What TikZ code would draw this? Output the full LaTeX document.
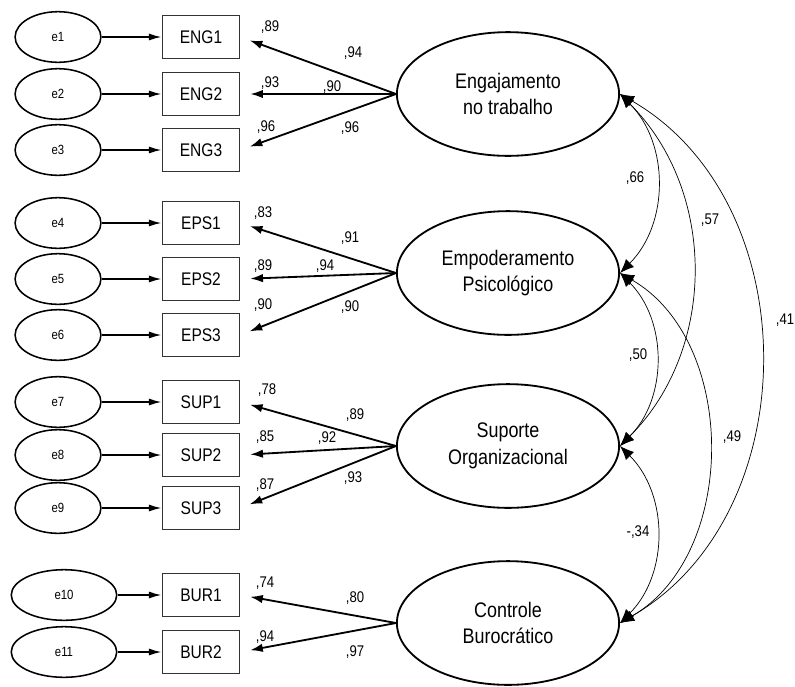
\documentclass[tikz,border=0pt]{standalone}
\usepackage{fontspec}
\setmainfont{Liberation Sans}[FakeStretch=0.85]
\usetikzlibrary{arrows.meta, positioning, shapes.geometric}

\begin{document}
\begin{tikzpicture}
  [x=0.025cm, y=-0.025cm,
   errnode/.style={ellipse, draw, line width=1.1pt, minimum width=61pt, minimum height=36pt, inner sep=0pt, font=\fontsize{9.5}{10}\selectfont},
   obsbox/.style={rectangle, draw=black!80, line width=1.1pt, minimum width=55pt, minimum height=30.5pt, inner sep=0pt, font=\fontsize{13}{14}\selectfont},
   latent/.style={ellipse, draw, line width=1.3pt, minimum width=158pt, minimum height=88pt, inner sep=0pt, align=center, font=\fontsize{15}{19}\selectfont},
   errarrow/.style={-{Latex[length=9pt,width=5pt]}, line width=1.1pt},
   load/.style={-{Latex[length=9pt,width=6pt]}, line width=1.3pt, shorten >=7pt},
   cov/.style={{Latex[length=10pt,width=8pt]}-{Latex[length=10pt,width=8pt]}, line width=0.5pt},
   coef/.style={font=\fontsize{11}{12}\selectfont, inner sep=0pt}]
  \useasboundingbox (0,0) rectangle (795,686);

  % factors
  \node (eng) at (508,94) [latent] {Engajamento\\no trabalho};
  \node (eps) at (508,273) [latent] {Empoderamento\\Psicológico};
  \node (sup) at (508,446) [latent] {Suporte\\Organizacional};
  \node (bur) at (508,623) [latent] {Controle\\Burocrático};

  % indicators and errors
  \foreach \i/\y in {1/37, 2/94, 3/150}{
    \node (e\i) at (58,\y) [errnode] {e\i};
    \node (eng\i) at (201,\y) [obsbox] {ENG\i};
    \draw [errarrow] (e\i) -- (eng\i);
    \draw [load] (eng.west) -- (eng\i.east);
  }
  \foreach \i/\n/\y in {1/4/223, 2/5/279, 3/6/335}{
    \node (e\n) at (58,\y) [errnode] {e\n};
    \node (eps\i) at (201,\y) [obsbox] {EPS\i};
    \draw [errarrow] (e\n) -- (eps\i);
    \draw [load] (eps.west) -- (eps\i.east);
  }
  \foreach \i/\n/\y in {1/7/402, 2/8/455, 3/9/508}{
    \node (e\n) at (58,\y) [errnode] {e\n};
    \node (sup\i) at (201,\y) [obsbox] {SUP\i};
    \draw [errarrow] (e\n) -- (sup\i);
    \draw [load] (sup.west) -- (sup\i.east);
  }
  \foreach \i/\n/\y in {1/10/595, 2/11/652}{
    \node (e\n) at (64,\y) [errnode, minimum width=75pt] {e\n};
    \node (bur\i) at (201,\y) [obsbox] {BUR\i};
    \draw [errarrow] (e\n) -- (bur\i);
    \draw [load] (bur.west) -- (bur\i.east);
  }

  % loadings and r2
  \foreach \n/\x/\y/\t in {
      a1/270/27/{,89}, a2/353/53/{,94}, a3/270/83/{,93}, a4/332/87/{,90}, a5/266/127/{,96}, a6/350/128/{,96},
      b1/263/213/{,83}, b2/350/238/{,91}, b3/263/266/{,89}, b4/325/266/{,94}, b5/263/305/{,90}, b6/350/307/{,90},
      c1/267/390/{,78}, c2/355/415/{,89}, c3/265/437/{,85}, c4/327/438/{,92}, c5/265/485/{,87}, c6/353/478/{,93},
      d1/265/583/{,74}, d2/355/598/{,80}, d3/265/637/{,94}, d4/355/652/{,97}}{
    \node (\n) at (\x,\y) [coef] {\t};
  }

  % correlations
  \draw [cov] (eng.east) to [out=-45, in=45] (eps.east);
  \draw [cov] (eng.east) to [out=-45, in=45] (sup.east);
  \draw [cov] (eng.east) to [out=-30, in=30, looseness=1.05] (bur.east);
  \draw [cov] (eps.east) to [out=-45, in=45] (sup.east);
  \draw [cov] (eps.east) to [out=-30, in=30] (bur.east);
  \draw [cov] (sup.east) to [out=-45, in=45] (bur.east);
  \node (r1) at (635,178) [coef] {,66};
  \node (r2) at (710,220) [coef] {,57};
  \node (r3) at (785,320) [coef] {,41};
  \node (r4) at (638,355) [coef] {,50};
  \node (r5) at (732,437) [coef] {,49};
  \node (r6) at (638,532) [coef] {-,34};
\end{tikzpicture}
\end{document}
